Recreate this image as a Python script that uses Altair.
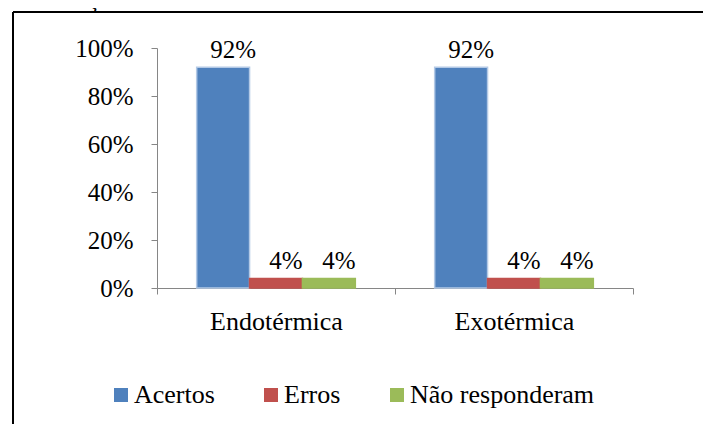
import altair as alt
import pandas as pd

categories = ["Endotérmica", "Exotérmica"]
series = ["Acertos", "Erros", "Não responderam"]
acertos = [0.92, 0.92]
erros = [0.04, 0.04]
nao_responderam = [0.04, 0.04]
labels_acertos = ["92%", "92%"]
labels_erros = ["4%", "4%"]
labels_nao = ["4%", "4%"]
question = "uma reação exotérmica?"

rows = []
for vals, labs, s in [(acertos, labels_acertos, series[0]),
                      (erros, labels_erros, series[1]),
                      (nao_responderam, labels_nao, series[2])]:
    for c, v, l in zip(categories, vals, labs):
        rows.append({"categoria": c, "serie": s, "valor": v, "rotulo": l})
df = pd.DataFrame(rows)

FONT = "Liberation Serif"
fill_colors = ["#4F81BD", "#C0504D", "#9BBB59"]
stroke_colors = ["#B3C9E6", "#C0504D", "#9BBB59"]

x_enc = alt.X("categoria:N", sort=categories, title=None,
              scale=alt.Scale(paddingInner=0, paddingOuter=0),
              axis=alt.Axis(labelAngle=0, tickBand="extent", labelPadding=14,
                            labelFontSize=26, labelFont=FONT, labelColor="black",
                            domainColor="#868686", tickColor="#868686", tickSize=6))
xoff_enc = alt.XOffset("serie:N", sort=series,
                       scale=alt.Scale(paddingOuter=0.75, paddingInner=0))
y_enc = alt.Y("valor:Q", title=None,
              scale=alt.Scale(domain=[0, 1]),
              axis=alt.Axis(values=[0, 0.2, 0.4, 0.6, 0.8, 1.0], format=".0%",
                            grid=False, labelFontSize=25, labelFont=FONT,
                            labelColor="black", domainColor="#868686",
                            tickColor="#868686", tickSize=6, labelPadding=18))

bars = alt.Chart(df).mark_bar(strokeWidth=1.5).encode(
    x=x_enc,
    xOffset=xoff_enc,
    y=y_enc,
    fill=alt.Fill("serie:N", sort=series,
                  scale=alt.Scale(domain=series, range=fill_colors),
                  legend=alt.Legend(title=None, orient="none", legendX=-49, legendY=334,
                                    direction="horizontal", symbolType="square",
                                    symbolSize=196, symbolStrokeWidth=0,
                                    labelFontSize=26, labelFont=FONT, labelColor="black",
                                    labelOffset=0, columnPadding=43, labelLimit=400)),
    stroke=alt.Stroke("serie:N", sort=series,
                      scale=alt.Scale(domain=series, range=stroke_colors), legend=None),
)

texts = alt.Chart(df).mark_text(font=FONT, fontSize=25, color="black",
                                dx=10, dy=-9, baseline="alphabetic").encode(
    x=alt.X("categoria:N", sort=categories),
    xOffset=alt.XOffset("serie:N", sort=series),
    y=alt.Y("valor:Q"),
    text="rotulo:N",
)

frame_top = alt.Chart(df).mark_rule(color="black", strokeWidth=1.5).encode(
    x=alt.value(-144), x2=alt.value(600), y=alt.value(-36))
frame_left = alt.Chart(df).mark_rule(color="black", strokeWidth=1.5).encode(
    x=alt.value(-144), y=alt.value(-36), y2=alt.value(420))

title_text = alt.Chart(pd.DataFrame({"t": [question]})).mark_text(
    font=FONT, fontSize=25, color="black", align="left", baseline="alphabetic").encode(
    x=alt.value(-149), y=alt.value(-41), text="t:N")

chart = alt.layer(frame_top, frame_left, title_text, bars, texts).properties(
    width=476, height=240,
    autosize=alt.AutoSizeParams(type="none"),
    padding={"left": 149, "top": 40, "right": 70, "bottom": 136},
).configure_view(stroke=None)

chart.save("out.html", embed_options={"renderer": "svg", "actions": False})
